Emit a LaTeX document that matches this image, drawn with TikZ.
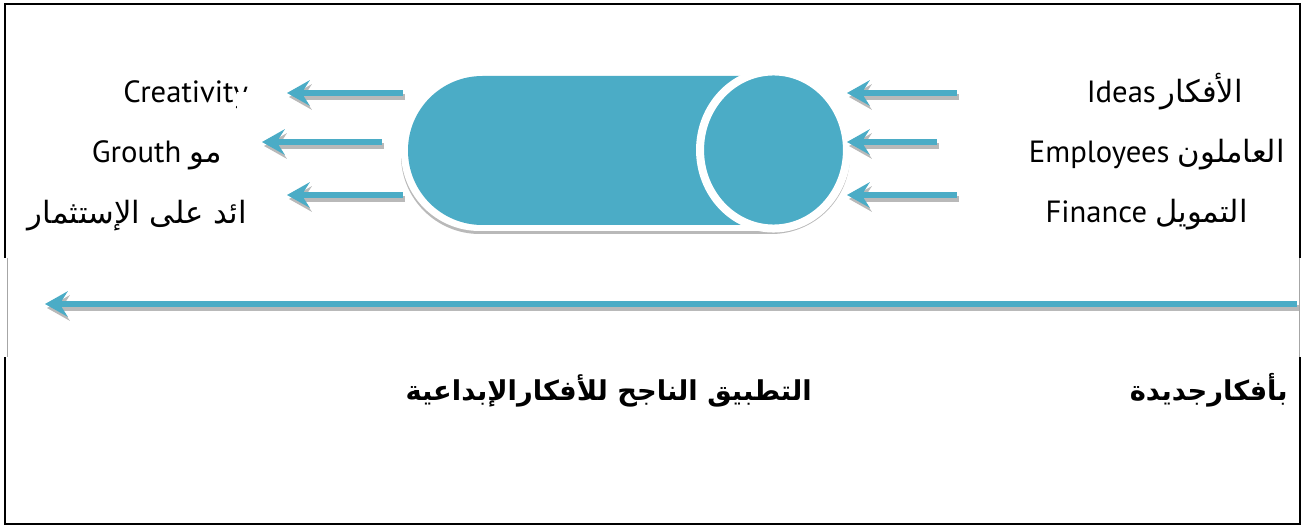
\documentclass[tikz,border=0pt]{standalone}
\usepackage{fontspec}
\setmainfont{PT Sans}
\newfontfamily\arabicfont[Script=Arabic]{DejaVu Sans}
\TeXXeTstate=1
\usetikzlibrary{arrows.meta}
\definecolor{tealA}{HTML}{4BACC6}
\tikzset{
  flow/.style={draw=tealA, line width=4.5pt, -{Stealth[length=17pt,width=19pt,inset=6pt]}},
  flowshadow/.style={draw=gray!55, line width=4.5pt, -{Stealth[length=17pt,width=19pt,inset=6pt]}, transform canvas={shift={(1.5pt,-3pt)}}},
  lbl/.style={font=\fontsize{23}{27}\selectfont, inner sep=0pt, anchor=base east},
  boldlbl/.style={font=\fontsize{20.5}{24}\selectfont\arabicfont\bfseries, inner sep=0pt, anchor=base east},
  frame/.style={draw=black, line width=2pt},
  thinframe/.style={draw=gray!70, line width=0.6pt}
}
\begin{document}
\begin{tikzpicture}[x=0.75pt,y=-0.75pt]
\useasboundingbox (0,0) rectangle (1303,527);
% frame
\draw[frame] (5,258) -- (5,4) -- (1300,4) -- (1300,258);
\draw[frame] (5,357) -- (5,524) -- (1300,524) -- (1300,357);
\draw[thinframe] (7,258) -- (7,357);
\draw[thinframe] (1299,258) -- (1299,357);
% capsule
\fill[gray!55, rounded corners=59pt] (401,77) rectangle (850,234);
\fill[white, rounded corners=59pt] (401,70) rectangle (850,231);
\fill[tealA, rounded corners=55.8pt] (408,76) rectangle (843,225);
\draw[white, line width=6pt, fill=tealA] (773.5,150) ellipse[x radius=55.1pt, y radius=58.9pt];
% coordinates
\coordinate (l1s) at (403,93);  \coordinate (l1e) at (287,93);
\coordinate (l2s) at (382,142); \coordinate (l2e) at (262,142);
\coordinate (l3s) at (403,195); \coordinate (l3e) at (287,195);
\coordinate (r1s) at (957,93);  \coordinate (r1e) at (847,93);
\coordinate (r2s) at (937,142); \coordinate (r2e) at (847,142);
\coordinate (r3s) at (957,195); \coordinate (r3e) at (847,195);
\coordinate (ms) at (1297,304); \coordinate (me) at (45,304);
% arrows
\foreach \a/\b in {l1s/l1e,l2s/l2e,l3s/l3e,r1s/r1e,r2s/r2e,r3s/r3e,ms/me}{
  \draw[flowshadow] (\a) -- (\b);
  \draw[flow] (\a) -- (\b);
}
% left labels
\begin{scope}
\clip (0,0) rectangle (236,527) (236,0) rectangle (248,92);
\node[lbl, anchor=base west] (creat) at (123,103) {Creativity};
\end{scope}
\node[lbl] (grow) at (222,163) {Grouth {\arabicfont\beginR مو\endR}};
\node[lbl] (roi) at (247,224) {\arabicfont\beginR ائد على الإستثمار\endR};
% right labels
\node[lbl] (ideas) at (1243,103) {Ideas\,{\arabicfont\beginR الأفكار\endR}};
\node[lbl] (emp) at (1285,163) {Employees {\arabicfont\beginR العاملون\endR}};
\node[lbl] (fin) at (1248,223) {Finance {\arabicfont\beginR التمويل\endR}};
% bottom labels
\node[boldlbl] (app) at (812,400) {\beginR التطبيق الناجح للأفكارالإبداعية\endR};
\node[boldlbl] (newi) at (1288,400) {\beginR بأفكارجديدة\endR};
\end{tikzpicture}
\end{document}
